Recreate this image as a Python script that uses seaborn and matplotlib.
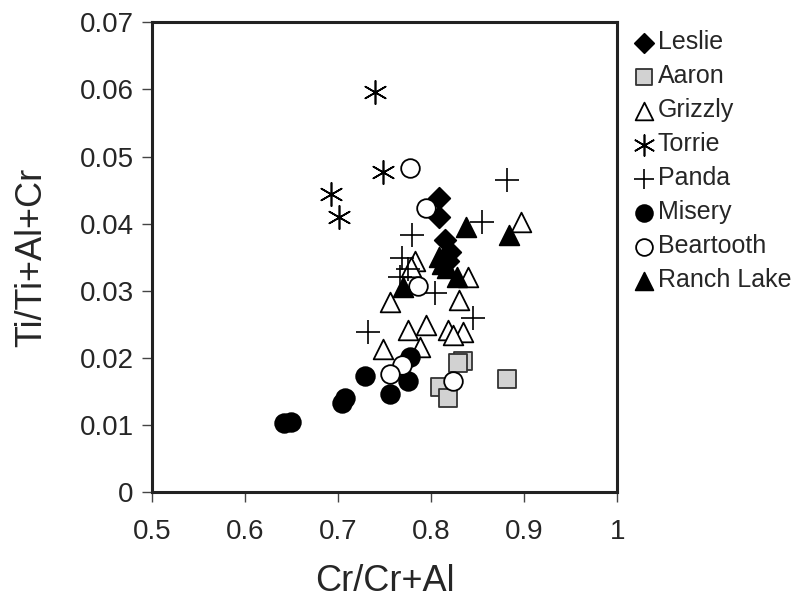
import pandas as pd
import matplotlib.pyplot as plt
import seaborn as sns

sns.set_style("white")
plt.rcParams['font.family'] = ['Liberation Sans', 'DejaVu Sans']

# Dados (Cr/Cr+Al, Ti/Ti+Al+Cr)
leslie_x = [0.808, 0.809, 0.815, 0.820, 0.818]
leslie_y = [0.0438, 0.0410, 0.0375, 0.0358, 0.0345]

aaron_x = [0.834, 0.829, 0.810, 0.818, 0.881]
aaron_y = [0.0195, 0.0192, 0.0156, 0.0141, 0.0168]

grizzly_x = [0.896, 0.783, 0.840, 0.756, 0.830, 0.795, 0.775, 0.818, 0.834,
             0.748, 0.788, 0.824, 0.778]
grizzly_y = [0.0402, 0.0344, 0.0320, 0.0283, 0.0287, 0.0249, 0.0241, 0.0241,
             0.0238, 0.0214, 0.0216, 0.0234, 0.0335]

torrie_x = [0.740, 0.748, 0.692, 0.701]
torrie_y = [0.0596, 0.0477, 0.0444, 0.0410]

panda_x = [0.882, 0.855, 0.780, 0.769, 0.767, 0.804, 0.845, 0.732, 0.775]
panda_y = [0.0465, 0.0402, 0.0383, 0.0349, 0.0320, 0.0296, 0.0259, 0.0238, 0.0333]

misery_x = [0.642, 0.650, 0.704, 0.708, 0.729, 0.756, 0.775, 0.777]
misery_y = [0.0103, 0.0105, 0.0133, 0.0140, 0.0173, 0.0147, 0.0165, 0.0201]

beartooth_x = [0.777, 0.795, 0.786, 0.769, 0.756, 0.823]
beartooth_y = [0.0483, 0.0423, 0.0307, 0.0190, 0.0176, 0.0165]

ranch_x = [0.838, 0.884, 0.808, 0.817, 0.828, 0.770, 0.812]
ranch_y = [0.0395, 0.0383, 0.0350, 0.0334, 0.0320, 0.0305, 0.0340]

grupos = [
    ('Leslie', leslie_x, leslie_y, 'D', 'black', 'black', 120),
    ('Aaron', aaron_x, aaron_y, 's', '#d2d2d2', '#333333', 180),
    ('Grizzly', grizzly_x, grizzly_y, '^', 'white', 'black', 200),
    ('Torrie', torrie_x, torrie_y, (6, 2, 0), 'black', 'black', 280),
    ('Panda', panda_x, panda_y, '+', 'black', 'black', 280),
    ('Misery', misery_x, misery_y, 'o', 'black', 'black', 180),
    ('Beartooth', beartooth_x, beartooth_y, 'o', 'white', 'black', 180),
    ('Ranch Lake', ranch_x, ranch_y, '^', 'black', 'black', 200),
]

fig = plt.figure(figsize=(8.07, 6.01), dpi=100)
ax = fig.add_axes([0.188, 0.181, 0.577, 0.782])

for nome, xs, ys, mk, fc, ec, s in grupos:
    df = pd.DataFrame({'x': xs, 'y': ys})
    if mk in ('+', (6, 2, 0)):
        sns.scatterplot(data=df, x='x', y='y', marker=mk, color='black',
                        s=s, linewidth=1.2, ax=ax, label=nome)
    else:
        sns.scatterplot(data=df, x='x', y='y', marker=mk, facecolor=fc,
                        edgecolor=ec, s=s, linewidth=1.3, ax=ax, label=nome)

ax.set_xlim(0.5, 1.0)
ax.set_ylim(0, 0.07)
ax.set_xticks([0.5, 0.6, 0.7, 0.8, 0.9, 1.0])
ax.set_xticklabels(['0.5', '0.6', '0.7', '0.8', '0.9', '1'])
ax.set_yticks([0, 0.01, 0.02, 0.03, 0.04, 0.05, 0.06, 0.07])
ax.set_yticklabels(['0', '0.01', '0.02', '0.03', '0.04', '0.05', '0.06', '0.07'])
ax.tick_params(axis='both', direction='out', length=7, width=1, labelsize=20,
               color='#444444', pad=6, bottom=True, left=True)
ax.tick_params(axis='x', pad=12)
ax.set_xlabel('Cr/Cr+Al', fontsize=26, labelpad=14)
ax.set_ylabel('Ti/Ti+Al+Cr', fontsize=26, labelpad=22)
for sp in ax.spines.values():
    sp.set_color('#222222')
    sp.set_linewidth(2.2)

leg = ax.legend(loc='upper left', bbox_to_anchor=(0.985, 1.02), frameon=False,
                fontsize=18, handletextpad=-0.1, labelspacing=0.4,
                borderaxespad=0.3, handlelength=1.3, markerscale=0.9)

fig.savefig('out.png', dpi=100)
